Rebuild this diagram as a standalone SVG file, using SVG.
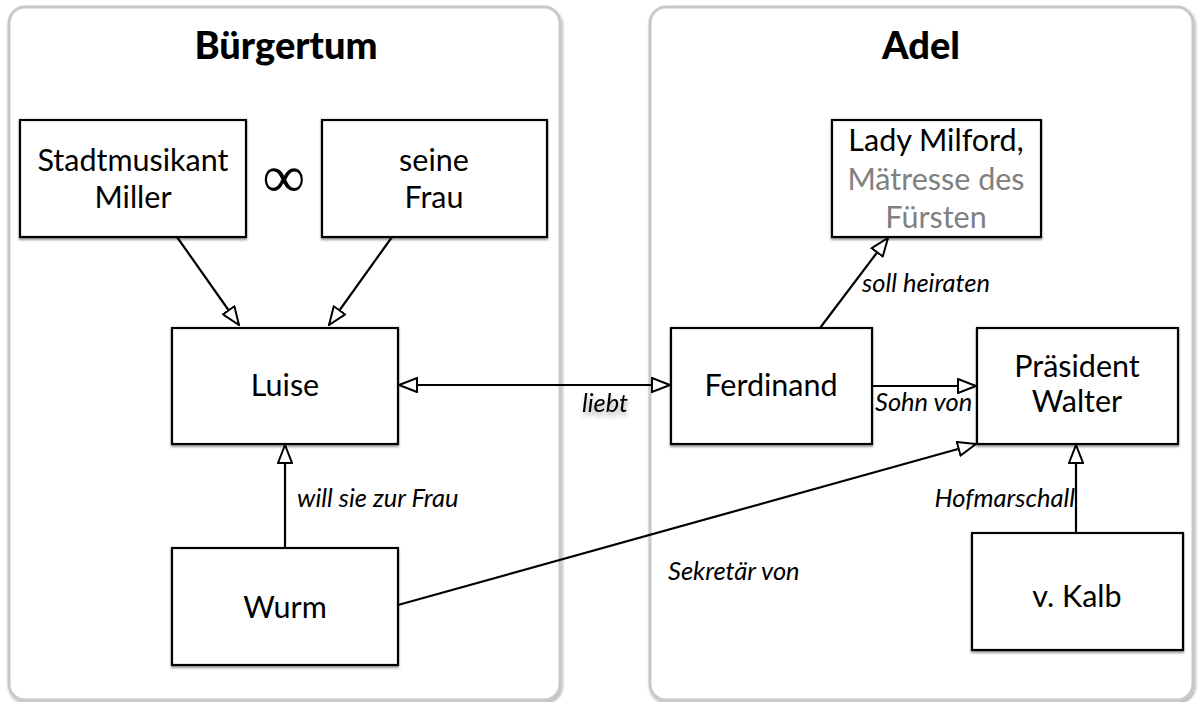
<svg xmlns="http://www.w3.org/2000/svg" width="1198" height="702" viewBox="0 0 1198 702">
<defs>
<filter id="csh" x="-5%" y="-5%" width="110%" height="110%"><feGaussianBlur in="SourceAlpha" stdDeviation="1.5"/><feOffset dx="1" dy="2"/><feComponentTransfer><feFuncA type="linear" slope="0.35"/></feComponentTransfer><feMerge><feMergeNode/><feMergeNode in="SourceGraphic"/></feMerge></filter>
<filter id="nsh" x="-5%" y="-5%" width="110%" height="110%"><feGaussianBlur in="SourceAlpha" stdDeviation="0.8"/><feOffset dx="0" dy="1.5"/><feComponentTransfer><feFuncA type="linear" slope="0.4"/></feComponentTransfer><feMerge><feMergeNode/><feMergeNode in="SourceGraphic"/></feMerge></filter>
<filter id="tsh" x="-30%" y="-50%" width="160%" height="200%"><feGaussianBlur in="SourceAlpha" stdDeviation="2.5"/><feOffset dx="1" dy="4"/><feComponentTransfer><feFuncA type="linear" slope="0.35"/></feComponentTransfer><feMerge><feMergeNode/><feMergeNode in="SourceGraphic"/></feMerge></filter>
<marker id="tri" viewBox="0 0 20 16" refX="19" refY="8" markerWidth="20" markerHeight="16" markerUnits="userSpaceOnUse" orient="auto-start-reverse"><path d="M1,1 L19,8 L1,15 Z" fill="#fff" stroke="#000" stroke-width="2"/></marker>
</defs>
<style>
.cont{fill:#fff;stroke:#c8c8c8;stroke-width:3}
.box{fill:#fff;stroke:#000;stroke-width:2.2}
.t{font-family:Lato,"Open Sans","Liberation Sans",sans-serif;font-size:30.5px;fill:#000;text-anchor:middle}
.g{fill:#808080}
.h{font-family:Lato,"Liberation Sans",sans-serif;font-weight:900;font-size:38px;text-anchor:middle;fill:#000}
.l{font-family:Lato,"Open Sans","Liberation Sans",sans-serif;font-style:italic;font-size:25.5px;fill:#000}
.c{fill:none;stroke:#000;stroke-width:2.2}
</style>
<g id="buergertum">
<rect class="cont" x="9" y="7" width="551" height="693" rx="16" filter="url(#csh)"/>
<text class="h" x="286" y="59">Bürgertum</text>
</g>
<g id="adel">
<rect class="cont" x="650" y="7" width="543" height="693" rx="16" filter="url(#csh)"/>
<text class="h" x="921" y="59">Adel</text>
</g>
<g id="connectors">
<line class="c" x1="177" y1="237" x2="239" y2="325" marker-end="url(#tri)"/>
<line class="c" x1="392" y1="237" x2="329" y2="325" marker-end="url(#tri)"/>
<line class="c" x1="399" y1="385" x2="670" y2="385" marker-start="url(#tri)" marker-end="url(#tri)"/>
<line class="c" x1="820" y1="328" x2="888" y2="238" marker-end="url(#tri)"/>
<line class="c" x1="872" y1="386" x2="976" y2="386" marker-end="url(#tri)"/>
<line class="c" x1="398" y1="605" x2="976" y2="444" marker-end="url(#tri)"/>
<line class="c" x1="285" y1="548" x2="285" y2="445" marker-end="url(#tri)"/>
<line class="c" x1="1076" y1="533" x2="1076" y2="445" marker-end="url(#tri)"/>
<text class="l" x="605" y="412" text-anchor="middle" filter="url(#tsh)">liebt</text>
<text class="l" x="862" y="292">soll heiraten</text>
<text class="l" x="875" y="411">Sohn von</text>
<text class="l" x="297" y="507">will sie zur Frau</text>
<text class="l" x="1075" y="507" text-anchor="end">Hofmarschall</text>
<text class="l" x="668" y="580">Sekretär von</text>
</g>
<g id="miller">
<rect class="box" x="20" y="120" width="226" height="117" filter="url(#nsh)"/>
<text class="t" x="133" y="171">Stadtmusikant</text>
<text class="t" x="133" y="208">Miller</text>
</g>
<g id="ehe">
<text class="t" x="284" y="197" style="font-size:60px;font-family:'Liberation Serif',serif">∞</text>
</g>
<g id="frau">
<rect class="box" x="322" y="120" width="225" height="117" filter="url(#nsh)"/>
<text class="t" x="434" y="171">seine</text>
<text class="t" x="434" y="208">Frau</text>
</g>
<g id="luise">
<rect class="box" x="172" y="328" width="226" height="116" filter="url(#nsh)"/>
<text class="t" x="285" y="396">Luise</text>
</g>
<g id="wurm">
<rect class="box" x="172" y="548" width="226" height="117" filter="url(#nsh)"/>
<text class="t" x="285" y="618">Wurm</text>
</g>
<g id="milford">
<rect class="box" x="832" y="120" width="209" height="117" filter="url(#nsh)"/>
<text class="t" x="936" y="151">Lady Milford,</text>
<text class="t g" x="936" y="190">Mätresse des</text>
<text class="t g" x="936" y="228">Fürsten</text>
</g>
<g id="ferdinand">
<rect class="box" x="671" y="328" width="201" height="116" filter="url(#nsh)"/>
<text class="t" x="771" y="396">Ferdinand</text>
</g>
<g id="praesident">
<rect class="box" x="977" y="328" width="201" height="116" filter="url(#nsh)"/>
<text class="t" x="1077" y="377">Präsident</text>
<text class="t" x="1077" y="412">Walter</text>
</g>
<g id="kalb">
<rect class="box" x="972" y="533" width="211" height="117" filter="url(#nsh)"/>
<text class="t" x="1077" y="607">v. Kalb</text>
</g>
</svg>
